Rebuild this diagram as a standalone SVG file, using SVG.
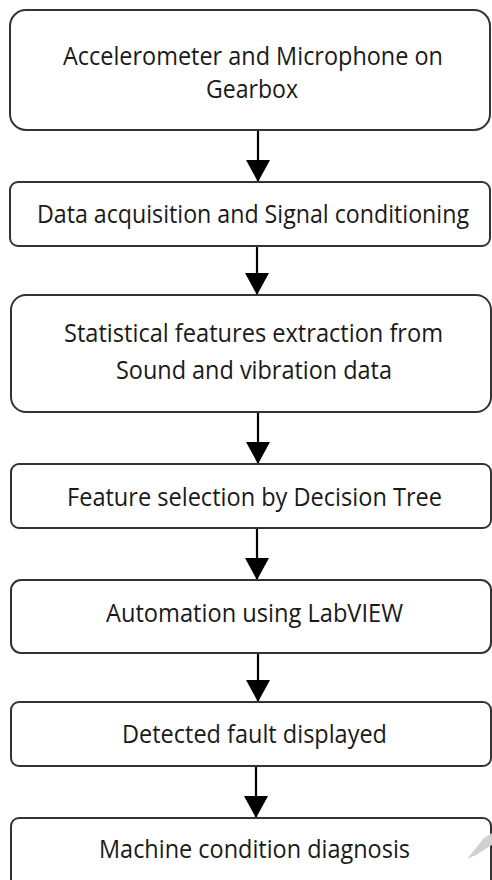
<svg xmlns="http://www.w3.org/2000/svg" width="492" height="880" viewBox="0 0 492 880">
<style>
.box{fill:#fff;stroke:#333;stroke-width:2}
.t{font-family:"Open Sans","Noto Sans",sans-serif;font-size:25px;fill:#1a1a1a;text-anchor:middle}
.c{stroke:#000;stroke-width:2.2;fill:none}
</style>
<defs>
<marker id="ah" markerUnits="userSpaceOnUse" markerWidth="24" markerHeight="24" refX="22" refY="12" orient="auto">
<path d="M0,0 L22,12 L0,24 Z" fill="#000"/>
</marker>
</defs>
<rect width="492" height="880" fill="#fff"/>
<g id="connectors">
<line class="c" x1="258" y1="130" x2="258" y2="182" marker-end="url(#ah)"/>
<line class="c" x1="257" y1="246" x2="257" y2="295" marker-end="url(#ah)"/>
<line class="c" x1="258" y1="412" x2="258" y2="464" marker-end="url(#ah)"/>
<line class="c" x1="257" y1="528" x2="257" y2="580" marker-end="url(#ah)"/>
<line class="c" x1="258" y1="653" x2="258" y2="702" marker-end="url(#ah)"/>
<line class="c" x1="256" y1="766" x2="256" y2="818" marker-end="url(#ah)"/>
</g>
<g id="n1">
<rect class="box" x="10" y="10" width="480" height="120" rx="16"/>
<text class="t" x="253" y="65" textLength="380" lengthAdjust="spacingAndGlyphs">Accelerometer and Microphone on</text>
<text class="t" x="252" y="98" textLength="92" lengthAdjust="spacingAndGlyphs">Gearbox</text>
</g>
<g id="n2">
<rect class="box" x="10" y="182" width="480" height="64" rx="8"/>
<text class="t" x="253" y="223" font-size="23.5" textLength="432" lengthAdjust="spacingAndGlyphs">Data acquisition and Signal conditioning</text>
</g>
<g id="n3">
<rect class="box" x="11" y="295" width="480" height="117" rx="15"/>
<text class="t" x="253.5" y="342" textLength="379" lengthAdjust="spacingAndGlyphs">Statistical features extraction from</text>
<text class="t" x="254" y="379" textLength="276" lengthAdjust="spacingAndGlyphs">Sound and vibration data</text>
</g>
<g id="n4">
<rect class="box" x="11" y="464" width="480" height="64" rx="8"/>
<text class="t" x="254.5" y="506" textLength="375" lengthAdjust="spacingAndGlyphs">Feature selection by Decision Tree</text>
</g>
<g id="n5">
<rect class="box" x="11" y="580" width="480" height="73" rx="10"/>
<text class="t" x="254.5" y="622" textLength="297" lengthAdjust="spacingAndGlyphs">Automation using LabVIEW</text>
</g>
<g id="n6">
<rect class="box" x="11" y="702" width="480" height="64" rx="8"/>
<text class="t" x="254.5" y="743" textLength="265" lengthAdjust="spacingAndGlyphs">Detected fault displayed</text>
</g>
<g id="n7">
<rect class="box" x="11" y="818" width="480" height="72" rx="8"/>
<text class="t" x="254.5" y="858" textLength="311" lengthAdjust="spacingAndGlyphs">Machine condition diagnosis</text>
</g>
<polygon points="467,859 484,838 492,833 492,845 487,848 476,855" fill="#d0d0d0"/>
</svg>
